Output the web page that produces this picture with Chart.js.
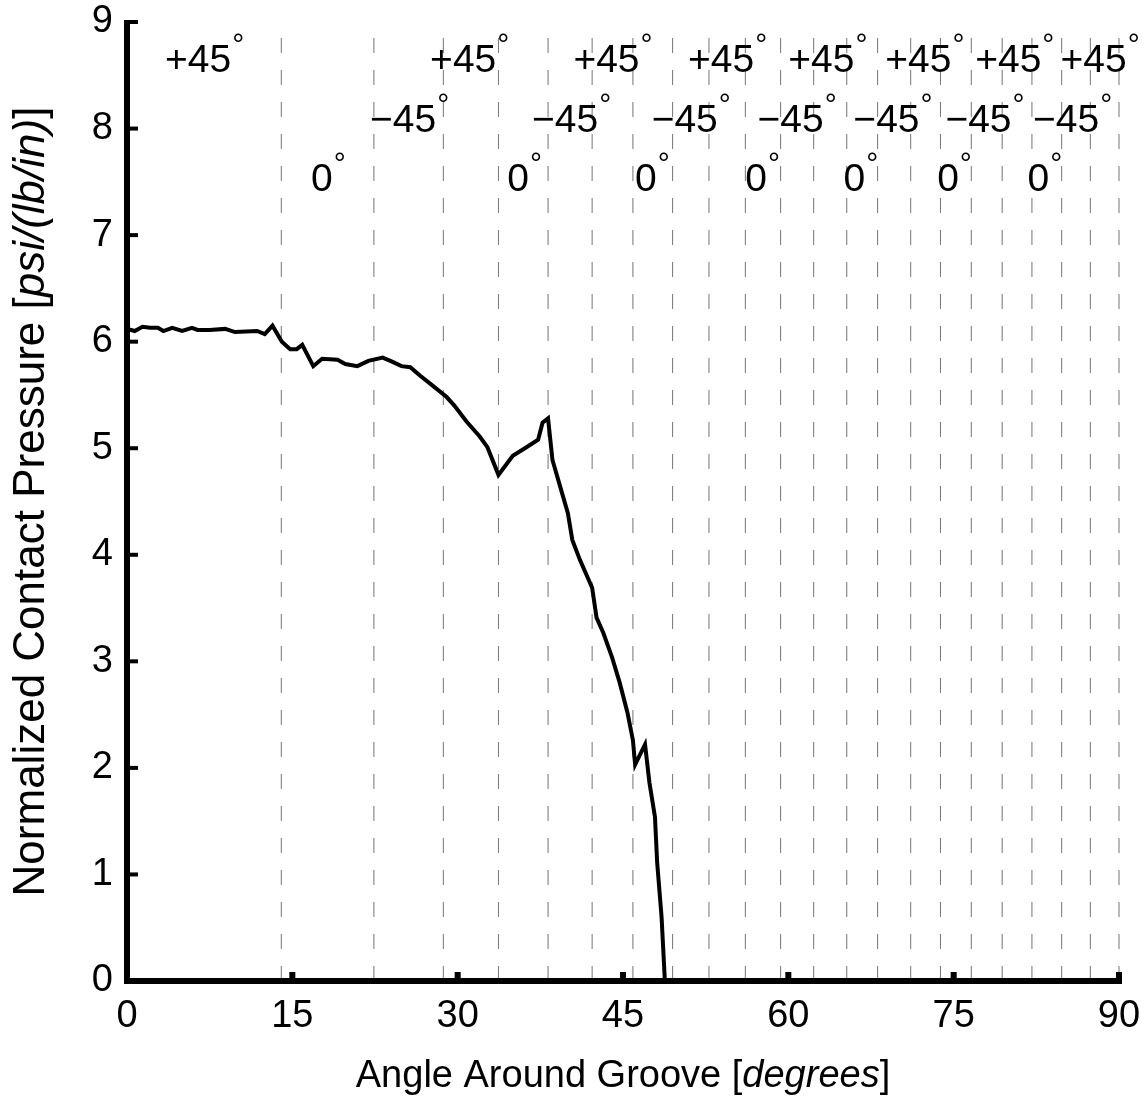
<!DOCTYPE html>
<html>
<head>
<meta charset="utf-8">
<script src="https://cdn.jsdelivr.net/npm/chart.js@4"></script>
<style>
  body { margin: 0; background: #fff; }
  #wrap { width: 1148px; height: 1099px; }
</style>
</head>
<body>
<div id="wrap"><canvas id="chart" width="1148" height="1099"></canvas></div>
<script>
// contact pressure curve
const angles = [0, 0.7, 1.4, 2.1, 2.8, 3.3, 4.1, 5.0, 5.9, 6.4, 7.5, 8.9, 9.8, 11.8, 12.5,
    13.2, 14.05, 14.8, 15.4, 15.9, 16.9, 17.7, 19.1, 19.8, 20.9, 21.9, 23.2, 24.1, 24.9, 25.7,
    26.6, 27.7, 29.0, 29.7, 30.8, 32.0, 32.7, 33.7, 35.0, 36.1, 37.3, 37.7, 38.2, 38.6, 39.3,
    40.0, 40.4, 41.1, 42.2, 42.6, 43.2, 44.0, 44.7, 45.4, 45.9, 46.1, 47.0, 47.4, 47.9, 48.1,
    48.5, 48.8, 90];
const pressure = [6.12, 6.10, 6.14, 6.13, 6.13, 6.10, 6.13, 6.10, 6.13, 6.11, 6.11, 6.12, 6.09, 6.10, 6.07,
    6.15, 6.00, 5.93, 5.93, 5.97, 5.77, 5.84, 5.83, 5.79, 5.77, 5.82, 5.85, 5.81, 5.77, 5.76,
    5.68, 5.59, 5.48, 5.40, 5.25, 5.11, 5.01, 4.75, 4.93, 5.00, 5.08, 5.24, 5.28, 4.89, 4.64,
    4.39, 4.14, 3.95, 3.69, 3.41, 3.27, 3.04, 2.80, 2.52, 2.26, 2.03, 2.22, 1.86, 1.54, 1.11,
    0.60, 0, 0];

// ply boundaries (dashed verticals)
const plyBounds = [14.0, 22.4, 28.7, 33.7, 38.2, 42.2, 45.9, 49.5, 52.8, 56.1, 59.3, 62.3,
    65.3, 68.1, 71.1, 73.8, 76.6, 79.4, 82.1, 84.8, 87.4, 90.0];

// ply orientation labels: left edge (degrees) per row
const plusX = [3.45, 27.5, 40.5, 50.9, 60.0, 68.8, 76.95, 84.7];
const minusX = [22.05, 36.75, 47.6, 57.2, 65.9, 74.25, 82.2];
const zeroX = [16.7, 34.5, 46.1, 56.1, 65.0, 73.5, 81.7];
const rowY = { plus: 8.53, minus: 7.97, zero: 7.41 };

const xTicks = [0, 15, 30, 45, 60, 75, 90];

const xTitle = [['Angle Around Groove [', false], ['degrees', true], [']', false]];
const yTitle = [['Normalized Contact Pressure [', false], ['psi/(lb/in)', true], [']', false]];

const FONT = '"Liberation Sans", Arial, sans-serif';

const datasets = [{
    data: angles.map((a, i) => ({ x: a, y: pressure[i] })),
    borderColor: '#000',
    borderWidth: 4,
    pointRadius: 0,
    tension: 0,
    fill: false
}];
plyBounds.forEach(b => {
    datasets.push({
        data: [{ x: b, y: 0 }, { x: b, y: 9 }],
        borderColor: 'rgba(0,0,0,0.55)',
        borderWidth: 1,
        borderDash: [15, 17],
        pointRadius: 0,
        clip: false
    });
});

// draws mixed normal/italic text centred on (0,0) of the current transform
function mixedText(ctx, parts, size, baseline) {
    const fonts = parts.map(p => (p[1] ? 'italic ' : '') + size + 'px ' + FONT);
    const widths = parts.map((p, i) => { ctx.font = fonts[i]; return ctx.measureText(p[0]).width; });
    let cx = -widths.reduce((s, w) => s + w, 0) / 2;
    parts.forEach((p, i) => {
        ctx.font = fonts[i];
        ctx.fillText(p[0], cx, baseline);
        cx += widths[i];
    });
}

const overlay = {
    id: 'overlay',
    afterDatasetsDraw(chart) {
        const { ctx, chartArea: a, scales: { x, y } } = chart;
        ctx.save();
        ctx.fillStyle = '#000';
        // axes
        ctx.fillRect(a.left - 3, a.top - 2, 6, a.bottom - a.top + 5);
        ctx.fillRect(a.left - 3, a.bottom - 3, a.right - a.left + 6, 6);
        // inward ticks
        y.ticks.forEach(t => {
            const py = y.getPixelForValue(t.value);
            ctx.fillRect(a.left, py - 2, 11, 4);
        });
        x.ticks.forEach(t => {
            const px = x.getPixelForValue(t.value);
            ctx.fillRect(px - 3, a.bottom - 9, 6, 9);
        });
        // ply labels
        const rows = [[plusX, '+45', rowY.plus], [minusX, '\u221245', rowY.minus], [zeroX, '0', rowY.zero]];
        ctx.textBaseline = 'alphabetic';
        ctx.textAlign = 'left';
        rows.forEach(([xs, txt, v]) => {
            const py = y.getPixelForValue(v);
            xs.forEach(lx => {
                const px = x.getPixelForValue(lx);
                ctx.font = '39px ' + FONT;
                ctx.fillText(txt, px, py);
                const w = ctx.measureText(txt).width;
                ctx.font = '30px ' + FONT;
                ctx.fillText('\u00B0', px + w + 1, py - 18);
            });
        });
        // axis titles
        ctx.save();
        ctx.translate((a.left + a.right) / 2, 0);
        mixedText(ctx, xTitle, 38, 1087);
        ctx.restore();
        ctx.save();
        ctx.translate(0, (a.top + a.bottom) / 2);
        ctx.rotate(-Math.PI / 2);
        mixedText(ctx, yTitle, 44, 44);
        ctx.restore();
        ctx.restore();
    }
};

new Chart(document.getElementById('chart').getContext('2d'), {
    type: 'line',
    data: { datasets: datasets },
    options: {
        responsive: false,
        animation: false,
        events: [],
        layout: { padding: { top: 22, right: 29, left: 0, bottom: 0 } },
        plugins: { legend: { display: false }, tooltip: { enabled: false } },
        scales: {
            x: {
                type: 'linear',
                min: 0,
                max: 90,
                afterBuildTicks: s => { s.ticks = xTicks.map(v => ({ value: v })); },
                afterFit: s => { s.height = 118; s.paddingLeft = 0; s.paddingRight = 0; },
                grid: { display: false, drawTicks: false },
                border: { display: false },
                ticks: { color: '#000', font: { family: FONT, size: 38 }, padding: 13, maxRotation: 0 }
            },
            y: {
                min: 0,
                max: 9,
                afterFit: s => { s.width = 127; s.paddingTop = 0; s.paddingBottom = 0; },
                grid: { display: false, drawTicks: false },
                border: { display: false },
                ticks: { stepSize: 1, color: '#000', font: { family: FONT, size: 38 }, padding: 14 }
            }
        }
    },
    plugins: [overlay]
});
</script>
</body>
</html>
